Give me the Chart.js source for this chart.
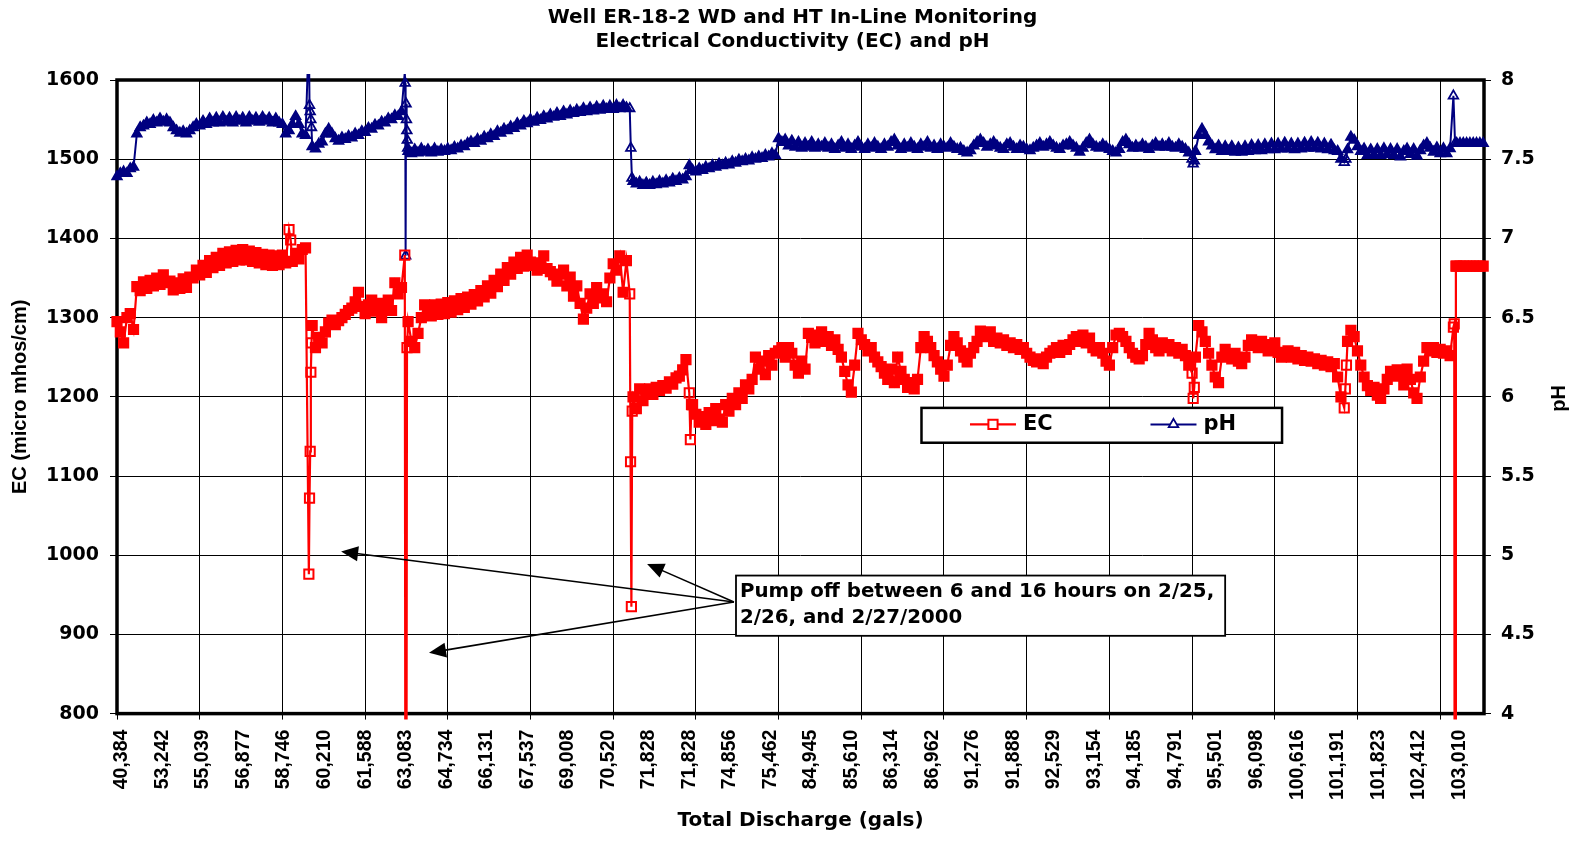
<!DOCTYPE html>
<html>
<head>
<meta charset="utf-8">
<title>Well ER-18-2 WD and HT In-Line Monitoring</title>
<script src="https://cdn.jsdelivr.net/npm/chart.js@4.4.1/dist/chart.umd.min.js"></script>
<style>
  html, body { margin: 0; padding: 0; background: #ffffff; }
  #wrap { width: 1585px; height: 842px; }
</style>
</head>
<body>
<div id="wrap"><canvas id="chart" width="1585" height="842"></canvas></div>
<script>
// Readings are stored every SAMPLE_STEP discharge categories; a nested list holds
// several readings logged back to back inside one step (pump stops / restarts).
const SAMPLE_STEP = 4;
const CATEGORY_COUNT = 1653;
const LABEL_EVERY = 49;   // categories between discharge labels
const GRID_EVERY = 100;   // categories between vertical gridlines

const dischargeLabels = [
  '40,384', '53,242', '55,039', '56,877', '58,746', '60,210', '61,588', '63,083',
  '64,734', '66,131', '67,537', '69,008', '70,520', '71,828', '71,828', '74,856',
  '75,462', '84,945', '85,610', '86,314', '86,962', '91,276', '91,888', '92,529',
  '93,154', '94,185', '94,791', '95,501', '96,098', '100,616', '101,191', '101,823',
  '102,412', '103,010'
];

// Electrical conductivity, micro mhos/cm
const ecReadings = [
  1295, 1282, 1268, 1300, 1305, 1285, 1339, 1334, 1345, 1337,            // 0
  1347, 1340, 1350, 1342, 1354, 1344, 1346, 1335, 1344, 1337,            // 10
  1349, 1338, 1351, 1350, 1360, 1354, 1366, 1357, 1372, 1363,            // 20
  1376, 1366, 1381, 1369, 1383, 1371, 1385, 1373, 1386, 1373,            // 30
  1384, 1371, 1382, 1369, 1380, 1367, 1379, 1366, 1378, 1367,            // 40
  1379, 1369, [1411, 1398], 1371, 1381, 1374, 1386, 1388,
  [976, 1072, 1131, 1231, 1268], 1290,                                   // 50
  1262, 1275, 1268, 1282, 1293, 1297, 1291, 1296, 1300, 1304,            // 60
  1309, 1312, 1320, 1332, 1314, 1305, 1316, 1322, 1308, 1318,            // 70
  1300, 1312, 1322, 1309, 1344, 1330, 1338, [1379, 0, 1262], 1295, 1270, // 80
  1262, 1280, 1300, 1316, 1314, 1302, 1316, 1304, 1317, 1305,            // 90
  1319, 1307, 1321, 1310, 1324, 1313, 1326, 1317, 1329, 1321,            // 100
  1334, 1326, 1340, 1331, 1347, 1339, 1355, 1347, 1363, 1355,            // 110
  1370, 1362, 1376, 1365, 1379, 1370, 1366, 1360, 1369, 1378,            // 120
  1362, 1358, 1354, 1346, 1355, 1360, 1340, 1351, 1327, 1340,            // 130
  1318, 1298, 1312, 1330, 1318, 1338, 1325, 1330, 1320, 1350,            // 140
  1368, 1360, 1378, 1332, 1372, [1330, 1118, 935, 1182], 1200, 1185, 1210, 1195, // 150
  1205, 1210, 1203, 1212, 1208, 1214, 1211, 1219, 1216, 1224,            // 160
  1226, 1234, 1247, [1205, 1146, 1190], 1190, 1178, 1168, 1175, 1165, 1180, // 170
  1170, 1185, 1172, 1168, 1190, 1182, 1198, 1190, 1205, 1198,            // 180
  1215, 1210, 1222, 1250, 1235, 1245, 1228, 1252, 1240, 1255,            // 190
  1258, 1262, 1250, 1262, 1255, 1240, 1230, 1245, 1235, 1280,            // 200
  1275, 1268, 1278, 1282, 1270, 1276, 1265, 1272, 1260, 1250,            // 210
  1232, 1215, 1206, 1240, 1280, 1272, 1266, 1258, 1262, 1250,            // 220
  1244, 1238, 1230, 1222, 1235, 1218, 1250, 1232, 1222, 1212,            // 230
  1218, 1210, 1222, 1262, 1276, 1270, 1262, 1252, 1244, 1235,            // 240
  1226, 1240, 1265, 1276, 1268, 1258, 1250, 1244, 1255, 1262,            // 250
  1270, 1283, 1280, 1276, 1282, 1270, 1274, 1268, 1272, 1265,            // 260
  1268, 1262, 1266, 1260, 1262, 1255, 1250, 1246, 1244, 1248,            // 270
  1242, 1250, 1255, 1258, 1262, 1256, 1265, 1260, 1266, 1272,            // 280
  1276, 1270, 1278, 1268, 1274, 1262, 1258, 1262, 1255, 1245,            // 290
  1240, 1262, 1278, 1280, 1276, 1270, 1262, 1255, 1250, 1248,            // 300
  1252, 1266, 1280, 1272, 1262, 1258, 1268, 1262, 1266, 1258,            // 310
  1262, 1255, 1260, 1252, 1240, [1230, 1198, 1212], 1250, 1290, 1282, 1270, // 320
  1255, 1240, 1225, 1218, 1250, 1260, 1252, 1248, 1255, 1245,            // 330
  1242, 1250, 1265, 1272, 1268, 1262, 1270, 1266, 1258, 1262,            // 340
  1268, 1256, 1250, 1254, 1258, 1250, 1256, 1248, 1252, 1246,            // 350
  1250, 1245, 1248, 1242, 1246, 1240, 1244, 1238, 1242, 1225,            // 360
  1200, [1186, 1210, 1240], 1270, 1284, 1276, 1258, 1240, 1225, 1214, 1208, // 370
  1212, 1202, 1198, 1210, 1222, 1232, 1226, 1234, 1228, 1215,            // 380
  1235, 1222, 1205, 1198, 1225, 1245, 1262, 1258, 1262, 1256,            // 390
  1260, 1255, 1258, 1252, [1288, 1292, 0, 1365], 1365, 1365, 1365, 1365, 1365, // 400
  1365, 1365, 1365, 1365                                                 // 410
];

// pH
const phReadings = [
  7.39, 7.41, 7.42, 7.41, 7.44, 7.45, 7.66, 7.70, 7.71, 7.73,            // 0
  7.72, 7.745, 7.73, 7.755, 7.735, 7.75, 7.73, 7.70, 7.68, 7.665,        // 10
  7.675, 7.66, 7.68, 7.70, 7.72, 7.71, 7.74, 7.72, 7.755, 7.73,          // 20
  7.76, 7.73, 7.765, 7.735, 7.76, 7.73, 7.765, 7.74, 7.76, 7.73,         // 30
  7.765, 7.74, 7.76, 7.735, 7.765, 7.74, 7.76, 7.73, 7.755, 7.73,        // 40
  7.72, 7.66, 7.68, 7.72, 7.77, 7.72, 7.66, 7.65,
  [8.3, 7.84, 7.80, 7.75, 7.70], 7.58,                                   // 50
  7.565, 7.595, 7.61, 7.66, 7.69, 7.66, 7.63, 7.615, 7.635, 7.625,       // 60
  7.645, 7.635, 7.66, 7.65, 7.675, 7.67, 7.695, 7.69, 7.715, 7.71,       // 70
  7.735, 7.73, 7.755, 7.75, 7.775, 7.77, 7.80,
  [8.05, 7.98, 6.89, 7.85, 7.75, 7.68, 7.62, 7.57], 7.55, 7.535,         // 80
  7.56, 7.54, 7.565, 7.545, 7.56, 7.54, 7.565, 7.545, 7.56, 7.55,        // 90
  7.565, 7.555, 7.575, 7.565, 7.585, 7.58, 7.60, 7.61, 7.60, 7.625,      // 100
  7.615, 7.64, 7.63, 7.655, 7.645, 7.675, 7.665, 7.69, 7.68, 7.705,      // 110
  7.695, 7.725, 7.71, 7.74, 7.725, 7.75, 7.735, 7.76, 7.745, 7.77,       // 120
  7.755, 7.78, 7.765, 7.79, 7.77, 7.80, 7.78, 7.805, 7.79, 7.81,         // 130
  7.795, 7.82, 7.80, 7.825, 7.805, 7.83, 7.81, 7.835, 7.815, 7.835,      // 140
  7.815, 7.84, 7.82, 7.84, 7.825, [7.82, 7.57, 7.38], 7.36, 7.345, 7.355, 7.335, // 150
  7.35, 7.335, 7.355, 7.34, 7.36, 7.345, 7.365, 7.35, 7.375, 7.36,       // 160
  7.38, 7.37, 7.39, 7.46, 7.43, 7.42, 7.44, 7.43, 7.45, 7.44,            // 170
  7.46, 7.45, 7.47, 7.46, 7.475, 7.465, 7.485, 7.475, 7.495, 7.485,      // 180
  7.50, 7.49, 7.51, 7.50, 7.515, 7.505, 7.525, 7.515, 7.535, 7.525,      // 190
  7.63, 7.607, 7.622, 7.585, 7.615, 7.577, 7.607, 7.57, 7.60, 7.577,     // 200
  7.607, 7.57, 7.592, 7.577, 7.60, 7.57, 7.592, 7.562, 7.585, 7.607,     // 210
  7.57, 7.592, 7.562, 7.585, 7.607, 7.577, 7.562, 7.592, 7.57, 7.60,     // 220
  7.577, 7.562, 7.592, 7.577, 7.607, 7.622, 7.585, 7.562, 7.592, 7.57,   // 230
  7.60, 7.577, 7.562, 7.592, 7.577, 7.607, 7.57, 7.585, 7.562, 7.592,    // 240
  7.577, 7.57, 7.60, 7.577, 7.562, 7.57, 7.55, 7.54, 7.555, 7.585,       // 250
  7.607, 7.622, 7.60, 7.577, 7.592, 7.607, 7.585, 7.57, 7.562, 7.592,    // 260
  7.60, 7.577, 7.562, 7.585, 7.577, 7.562, 7.555, 7.57, 7.585, 7.60,     // 270
  7.577, 7.592, 7.607, 7.585, 7.57, 7.562, 7.585, 7.592, 7.607, 7.585,   // 280
  7.57, 7.545, 7.57, 7.60, 7.622, 7.592, 7.577, 7.57, 7.592, 7.577,      // 290
  7.562, 7.55, 7.54, 7.562, 7.607, 7.622, 7.592, 7.57, 7.585, 7.57,      // 300
  7.592, 7.577, 7.562, 7.585, 7.60, 7.577, 7.592, 7.577, 7.60, 7.577,    // 310
  7.57, 7.592, 7.577, 7.562, 7.54, [7.50, 7.47, 7.49], 7.55, 7.65, 7.69, 7.65, // 320
  7.61, 7.585, 7.56, 7.585, 7.55, 7.58, 7.55, 7.58, 7.545, 7.572,        // 330
  7.545, 7.58, 7.55, 7.587, 7.555, 7.587, 7.555, 7.592, 7.56, 7.597,     // 340
  7.56, 7.597, 7.565, 7.602, 7.565, 7.597, 7.56, 7.597, 7.565, 7.602,    // 350
  7.57, 7.607, 7.57, 7.602, 7.565, 7.597, 7.56, 7.59, 7.555, 7.55,       // 360
  7.50, [7.48, 7.50], 7.56, 7.64, 7.62, 7.58, 7.55, 7.565, 7.525, 7.56,  // 370
  7.525, 7.562, 7.525, 7.567, 7.53, 7.562, 7.525, 7.562, 7.515, 7.55,    // 380
  7.565, 7.53, 7.562, 7.52, 7.555, 7.585, 7.60, 7.57, 7.545, 7.572,      // 390
  7.535, 7.567, 7.535, 7.567, [7.90, 7.60], 7.60, 7.60, 7.60, 7.60, 7.60, // 400
  7.60, 7.60, 7.60, 7.60                                                 // 410
];

// Spread readings along the discharge category axis; readings logged back to
// back inside one step are flagged so they keep open markers.
function toPoints(readings) {
  const pts = [];
  readings.forEach((r, i) => {
    const base = i * SAMPLE_STEP;
    if (Array.isArray(r)) {
      r.forEach((v, j) => pts.push({ x: base + j * SAMPLE_STEP / r.length, y: v, burst: true }));
    } else {
      pts.push({ x: base, y: r });
    }
  });
  return pts;
}

// Ticks on the discharge axis: labelled ticks and gridline ticks have different spacing.
function dischargeTicks() {
  const map = new Map();
  dischargeLabels.forEach((text, i) => {
    const v = i * LABEL_EVERY;
    map.set(v, Object.assign(map.get(v) || { value: v, grid: false }, { text }));
  });
  for (let v = 0; v <= CATEGORY_COUNT; v += GRID_EVERY) {
    map.set(v, Object.assign(map.get(v) || { value: v, text: '' }, { grid: true }));
  }
  return [...map.values()].sort((a, b) => a.value - b.value);
}

// Annotation and legend placement, in discharge-category / EC units.
const pumpNote = {
  lines: ['Pump off between 6 and 16 hours on 2/25,', '2/26, and 2/27/2000'],
  box: { x0: 748.5, x1: 1340, y0: 974.3, y1: 898.2 },
  tail: { x: 746, y: 941 },
  tips: [{ x: 271, y: 1004.6 }, { x: 641, y: 989 }, { x: 377.3, y: 876.7 }]
};
const legendBox = { x0: 972.8, x1: 1408.8, y0: 1186, y1: 1142 };

const BOLD_SANS = 'DejaVu Sans';
const BOLD_ARIAL = 'Liberation Sans';
const EC_RED = '#ff0000';
const PH_NAVY = '#000080';
const OPEN = 'rgba(255,255,255,0)';

const plotFrame = {
  id: 'plotFrame',
  beforeDatasetsDraw(chart) {
    const { ctx, chartArea: a } = chart;
    ctx.save();
    ctx.strokeStyle = '#000';
    ctx.lineWidth = 3.5;
    ctx.strokeRect(a.left, a.top, a.right - a.left, a.bottom - a.top);
    ctx.restore();
  }
};

function drawArrow(ctx, x0, y0, x1, y1) {
  const ang = Math.atan2(y1 - y0, x1 - x0);
  const len = 17, half = 7.5;
  const c = Math.cos(ang), s = Math.sin(ang);
  ctx.beginPath();
  ctx.moveTo(x0, y0);
  ctx.lineTo(x1 - c * len * 0.8, y1 - s * len * 0.8);
  ctx.stroke();
  ctx.beginPath();
  ctx.moveTo(x1, y1);
  ctx.lineTo(x1 - c * len + s * half, y1 - s * len - c * half);
  ctx.lineTo(x1 - c * len - s * half, y1 - s * len + c * half);
  ctx.closePath();
  ctx.fill();
}

const notesAndLegend = {
  id: 'notesAndLegend',
  afterDatasetsDraw(chart) {
    const { ctx, scales } = chart;
    const px = v => scales.x.getPixelForValue(v);
    const py = v => scales.y.getPixelForValue(v);
    ctx.save();

    // arrows and note box
    ctx.strokeStyle = '#000';
    ctx.fillStyle = '#000';
    ctx.lineWidth = 1.6;
    const tx = px(pumpNote.tail.x), ty = py(pumpNote.tail.y);
    pumpNote.tips.forEach(t => drawArrow(ctx, tx, ty, px(t.x), py(t.y)));

    const bx0 = px(pumpNote.box.x0), bx1 = px(pumpNote.box.x1);
    const by0 = py(pumpNote.box.y0), by1 = py(pumpNote.box.y1);
    ctx.fillStyle = '#fff';
    ctx.fillRect(bx0, by0, bx1 - bx0, by1 - by0);
    ctx.lineWidth = 1.8;
    ctx.strokeRect(bx0, by0, bx1 - bx0, by1 - by0);
    ctx.fillStyle = '#000';
    ctx.font = 'bold 19.8px "' + BOLD_SANS + '"';
    ctx.textAlign = 'left';
    ctx.textBaseline = 'alphabetic';
    ctx.fillText(pumpNote.lines[0], bx0 + 4, by0 + 21);
    ctx.fillText(pumpNote.lines[1], bx0 + 4, by0 + 47.3);

    // legend
    const lx0 = px(legendBox.x0), lx1 = px(legendBox.x1);
    const ly0 = py(legendBox.y0), ly1 = py(legendBox.y1);
    ctx.fillStyle = '#fff';
    ctx.fillRect(lx0, ly0, lx1 - lx0, ly1 - ly0);
    ctx.lineWidth = 2.5;
    ctx.strokeStyle = '#000';
    ctx.strokeRect(lx0, ly0, lx1 - lx0, ly1 - ly0);
    const midY = ly0 + 16.5;
    const slots = [48.5, 229];
    chart.data.datasets.forEach((ds, i) => {
      const sx = lx0 + slots[i];
      ctx.strokeStyle = ds.borderColor;
      ctx.lineWidth = ds.borderWidth;
      ctx.beginPath();
      ctx.moveTo(sx, midY);
      ctx.lineTo(sx + 46, midY);
      ctx.stroke();
      ctx.lineWidth = ds.pointBorderWidth;
      ctx.fillStyle = '#fff';
      Chart.helpers.drawPoint(ctx, {
        pointStyle: ds.pointStyle, radius: ds.pointRadius, rotation: 0, borderWidth: ds.pointBorderWidth
      }, sx + 23, midY);
      ctx.fillStyle = '#000';
      ctx.font = 'bold 21px "' + BOLD_SANS + '"';
      ctx.textBaseline = 'middle';
      ctx.fillText(ds.label, sx + 53, midY);
    });
    ctx.restore();
  },
  afterDraw(chart) {
    // secondary axis title, read bottom to top like the primary one
    const t = chart.scales.y1.options.title;
    const { ctx, chartArea: a } = chart;
    ctx.save();
    ctx.translate(chart.width - 25.3, (a.top + a.bottom) / 2 + 1.5);
    ctx.rotate(-Math.PI / 2);
    ctx.font = 'bold 20px "' + BOLD_ARIAL + '"';
    ctx.fillStyle = '#000';
    ctx.textAlign = 'center';
    ctx.textBaseline = 'middle';
    ctx.fillText(t.text, 0, 0);
    ctx.restore();
  }
};

const markerFill = color => c => (c.raw && c.raw.burst) ? OPEN : color;

const ctx = document.getElementById('chart').getContext('2d');
new Chart(ctx, {
  type: 'line',
  data: {
    datasets: [
      {
        label: 'EC',
        data: toPoints(ecReadings),
        yAxisID: 'y',
        borderColor: EC_RED,
        borderWidth: 2.2,
        pointStyle: 'rect',
        pointRadius: 6.5,
        pointBorderWidth: 2,
        pointBorderColor: EC_RED,
        pointBackgroundColor: markerFill(EC_RED),
        tension: 0,
        clip: 6
      },
      {
        label: 'pH',
        data: toPoints(phReadings),
        yAxisID: 'y1',
        borderColor: PH_NAVY,
        borderWidth: 2,
        pointStyle: 'triangle',
        pointRadius: 5.5,
        pointBorderWidth: 1.8,
        pointBorderColor: PH_NAVY,
        pointBackgroundColor: markerFill(PH_NAVY),
        tension: 0,
        clip: 6
      }
    ]
  },
  options: {
    responsive: false,
    animation: false,
    devicePixelRatio: 1,
    events: [],
    layout: { padding: 0 },
    plugins: {
      legend: { display: false },
      tooltip: { enabled: false },
      title: {
        display: true,
        text: ['Well ER-18-2 WD and HT In-Line Monitoring', 'Electrical Conductivity (EC) and pH'],
        color: '#000',
        font: { family: BOLD_SANS, weight: 'bold', size: 20, lineHeight: 1.2 },
        padding: { top: 5.7, bottom: 26.3 }
      }
    },
    scales: {
      x: {
        type: 'linear',
        position: 'bottom',
        min: 0,
        max: CATEGORY_COUNT,
        afterBuildTicks(scale) { scale.ticks = dischargeTicks(); },
        afterFit(scale) { scale.height = 128.4; },
        border: { display: false },
        grid: {
          color: c => (c.tick && c.tick.grid) ? '#000' : 'rgba(0,0,0,0)',
          lineWidth: 1,
          tickLength: 6
        },
        ticks: {
          autoSkip: false,
          minRotation: 90,
          maxRotation: 90,
          padding: 10,
          labelOffset: 5,
          color: '#000',
          font: { family: BOLD_ARIAL, weight: 'bold', size: 19.5 },
          callback: (v, i, ticks) => ticks[i].text || ''
        },
        title: {
          display: true,
          text: 'Total Discharge (gals)',
          color: '#000',
          font: { family: BOLD_SANS, weight: 'bold', size: 20, lineHeight: 1.2 },
          padding: { top: 0, bottom: 9 }
        }
      },
      y: {
        type: 'linear',
        position: 'left',
        min: 800,
        max: 1600,
        afterFit(scale) { scale.width = 117; },
        border: { display: false },
        grid: { color: '#000', lineWidth: 1, tickLength: 7 },
        ticks: {
          stepSize: 100,
          padding: 11,
          color: '#000',
          font: { family: BOLD_SANS, weight: 'bold', size: 19 },
          callback: v => String(v)
        },
        title: {
          display: true,
          text: 'EC (micro mhos/cm)',
          color: '#000',
          font: { family: BOLD_ARIAL, weight: 'bold', size: 20, lineHeight: 1.2 },
          padding: { top: 8, bottom: 0 }
        }
      },
      y1: {
        type: 'linear',
        position: 'right',
        min: 4,
        max: 8,
        afterFit(scale) { scale.width = 101; },
        border: { display: false },
        grid: { drawOnChartArea: false, color: '#000', lineWidth: 1, tickLength: 7 },
        ticks: {
          stepSize: 0.5,
          padding: 10,
          color: '#000',
          font: { family: BOLD_SANS, weight: 'bold', size: 19 },
          callback: v => String(v)
        },
        title: { display: false, text: 'pH' }
      }
    }
  },
  plugins: [plotFrame, notesAndLegend]
});
</script>
</body>
</html>
